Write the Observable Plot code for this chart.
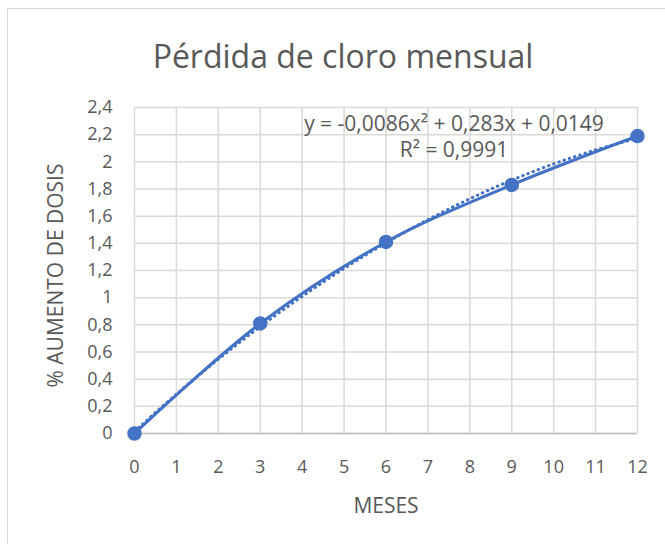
<!DOCTYPE html>
<html>
<head>
<meta charset="utf-8">
<script src="https://cdn.jsdelivr.net/npm/d3@7"></script>
<script src="https://cdn.jsdelivr.net/npm/@observablehq/plot@0.6"></script>
<style>
  html, body { margin: 0; padding: 0; background: #fff; }
  #wrap { position: relative; width: 665px; height: 544px; overflow: hidden; font-family: "Open Sans", sans-serif; }
  #frame { position: absolute; left: 7px; top: 8px; width: 700px; height: 600px; border: 1.5px solid #d9d9d9; box-sizing: border-box; }
  #title { position: absolute; left: 0; width: 686px; top: 34px; text-align: center; font-size: 32px; color: #595959; white-space: nowrap; }
  #chart { position: absolute; left: 0; top: 0; }
</style>
</head>
<body>
<div id="wrap">
  <div id="frame"></div>
  <div id="title">Pérdida de cloro mensual</div>
  <div id="chart"></div>
</div>
<script>
// Data
const months = [0, 3, 6, 9, 12];
const dosis = [0, 0.81, 1.41, 1.83, 2.19];
// Polynomial trendline coefficients as printed on the chart (a x^2 + b x + c)
const trendCoef = [-0.0086, 0.283, 0.0149];
const equationLines = ["y = -0,0086x² + 0,283x + 0,0149", "R² = 0,9991"];
const xTicks = [0,1,2,3,4,5,6,7,8,9,10,11,12];
const yTicks = [0,0.2,0.4,0.6,0.8,1,1.2,1.4,1.6,1.8,2,2.2,2.4];

const data = months.map((m, i) => ({x: m, y: dosis[i]}));
const trendX = d3.range(0, 12.001, 0.25);
const trend = trendX.map(x => ({x, y: trendCoef[0]*x*x + trendCoef[1]*x + trendCoef[2]}));

const fmt = d => d3.format("~g")(d).replace(".", ",");
const blue = "#4472C4";
const grey = "#595959";

const chart = Plot.plot({
  width: 665,
  height: 544,
  marginLeft: 134,
  marginRight: 28,
  marginTop: 107,
  marginBottom: 111,
  style: {fontFamily: "Open Sans, sans-serif", color: grey, background: "transparent"},
  x: {domain: [0, 12]},
  y: {domain: [0, 2.4]},
  marks: [
    Plot.gridX(xTicks, {stroke: "#d9d9d9", strokeOpacity: 1, strokeWidth: 1.5}),
    Plot.gridY(yTicks, {stroke: "#d9d9d9", strokeOpacity: 1, strokeWidth: 1.5}),
    Plot.ruleY([0], {stroke: "#bfbfbf", strokeWidth: 1.5}),
    Plot.axisX(xTicks, {tickFormat: fmt, tickSize: 0, tickPadding: 27, fontSize: 18, fill: grey, label: null}),
    Plot.axisY(yTicks, {tickFormat: fmt, tickSize: 0, tickPadding: 22, fontSize: 18, fill: grey, label: null}),
    Plot.text(["MESES"], {frameAnchor: "bottom", dy: 79, lineAnchor: "bottom", text: d => d, fontSize: 21, fill: grey}),
    Plot.text(["% AUMENTO DE DOSIS"], {frameAnchor: "left", dx: -86, dy: 5, rotate: -90, textAnchor: "middle", lineAnchor: "top", text: d => d, fontSize: 21, fill: grey}),
    Plot.line(trend, {x: "x", y: "y", stroke: blue, strokeWidth: 3, strokeDasharray: "0.5 5", strokeLinecap: "round"}),
    Plot.line(data, {x: "x", y: "y", stroke: blue, strokeWidth: 3, curve: "catmull-rom"}),
    Plot.dot(data, {x: "x", y: "y", r: 6.5, fill: blue, stroke: blue}),
    Plot.text([equationLines.join("\n")], {frameAnchor: "top", dx: 68, dy: 5, lineAnchor: "top", text: d => d, fill: grey, fontSize: 21, lineHeight: 1.25, textAnchor: "middle"})
  ]
});
document.getElementById("chart").appendChild(chart);
</script>
</body>
</html>
